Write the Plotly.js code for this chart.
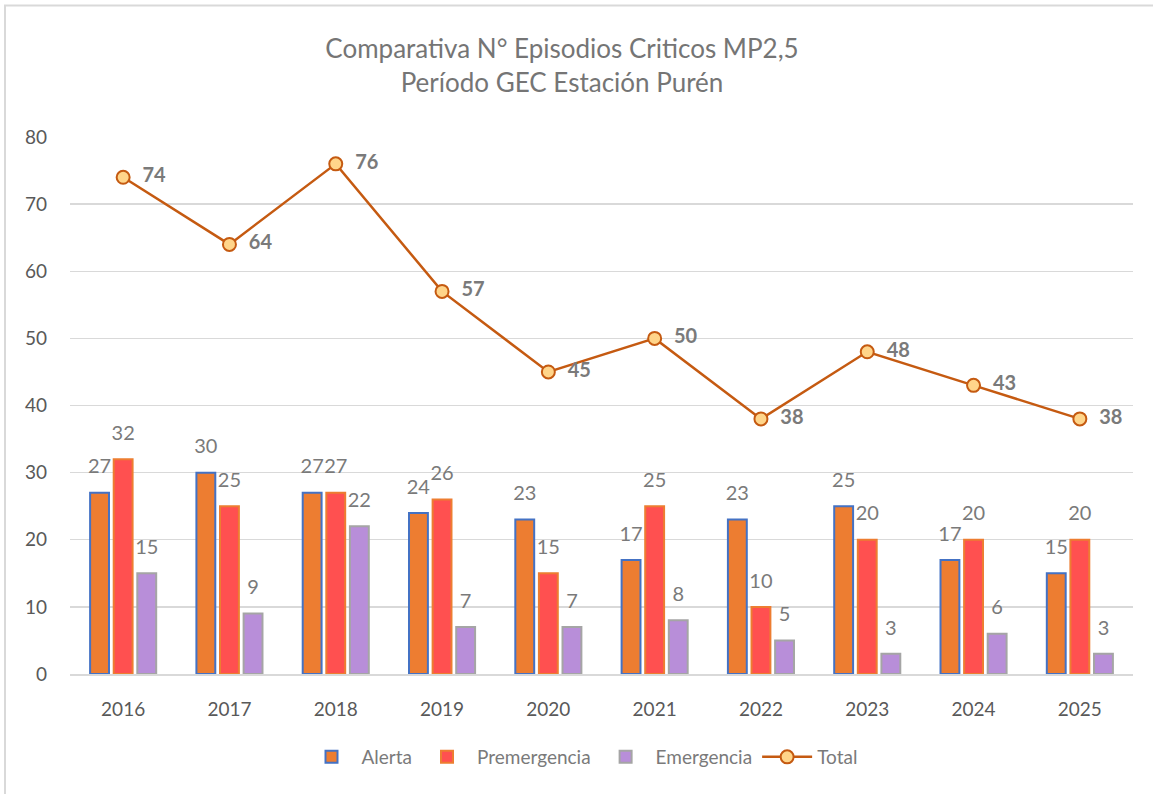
<!DOCTYPE html>
<html><head><meta charset="utf-8">
<script src="https://cdn.plot.ly/plotly-3.0.1.min.js"></script>
<style>html,body{margin:0;padding:0;background:#fff}#c{width:1153px;height:794px}</style>
</head><body><div id="c"></div>
<script>
const years = ['2016','2017','2018','2019','2020','2021','2022','2023','2024','2025'];
const alerta = [27,30,27,24,23,17,23,25,17,15];
const premergencia = [32,25,27,26,15,25,10,20,20,20];
const emergencia = [15,9,22,7,7,8,5,3,6,3];
const total = [74,64,76,57,45,50,38,48,43,38];
const yTicks = [0,10,20,30,40,50,60,70,80];

const FONT = 'Lato, "Open Sans", sans-serif';
const GRAY = '#7a7a7a';

function barTrace(name, y, fill, outline){
  return {type:'bar', name:name, x:years, y:y,
    marker:{color:fill, line:{color:outline, width:2}},
    textposition:'outside',
    texttemplate:'<span style="font-size:20px">%{y}</span><br> ',
    textfont:{family: FONT, size: 11, color: GRAY}, constraintext:'none', cliponaxis:false,
    hoverinfo:'skip'};
}

const data = [
  barTrace('Alerta', alerta, '#ED7D31', '#4472C4'),
  barTrace('Premergencia', premergencia, '#FF5050', '#ED7D31'),
  barTrace('Emergencia', emergencia, '#B88ED9', '#A5A5A5'),
  {type:'scatter', mode:'lines+markers+text', name:'Total', x:years, y:total,
   line:{color:'#C55A11', width:2.5},
   marker:{size:13, color:'#FFD58A', line:{color:'#C55A11', width:2}},
   texttemplate:'\u00a0\u00a0<b>%{y}</b>', textposition:'middle right',
   textfont:{family:FONT, size:20, color:GRAY}, cliponaxis:false, hoverinfo:'skip'}
];

const L=70, R=1133, T=137, B=674;
const pw=R-L, ph=B-T;
const layout = {
  width:1153, height:794,
  margin:{l:L, r:1153-R, t:T, b:794-B, autoexpand:false},
  paper_bgcolor:'#fff', plot_bgcolor:'#fff',
  font:{family:FONT, color:GRAY},
  title:{text:'Comparativa N° Episodios Criticos MP2,5<br>Período GEC Estación Purén',
    x:562/1153, xanchor:'center', yref:'container', y:1-58/794, yanchor:'middle',
    font:{family:FONT, size:26, color:'#757575'}},
  barmode:'group', bargap:0.334, bargroupgap:0.2,
  xaxis:{type:'category', range:[-0.5, years.length-0.5], autorange:false,
    showgrid:false, showline:true, linecolor:'#D9D9D9', linewidth:1.5,
    ticks:'', ticklabelstandoff:18, tickfont:{family:FONT, size:19, color:'#595959'}},
  yaxis:{range:[0,80], tickvals:yTicks, showgrid:true, gridcolor:'#D9D9D9', gridwidth:1.3,
    zeroline:false, showline:false, ticks:'', ticklabelstandoff:22,
    tickfont:{family:FONT, size:19, color:'#595959'}},
  legend:{orientation:'h', xref:'container', x:582/1153, xanchor:'center', yref:'container', y:1-757/794, yanchor:'middle',
    font:{family:FONT, size:19, color:GRAY}, itemwidth:50, traceorder:'normal'},
  showlegend:true,
  shapes:[{type:'rect', xref:'paper', yref:'paper',
    x0:(5-L)/pw, x1:(1170-L)/pw, y0:(B-810)/ph, y1:(B-5.5)/ph,
    line:{color:'#D9D9D9', width:2}, fillcolor:'rgba(0,0,0,0)', layer:'below'}]
};

Plotly.newPlot('c', data, layout, {displayModeBar:false, staticPlot:true});
</script></body></html>
